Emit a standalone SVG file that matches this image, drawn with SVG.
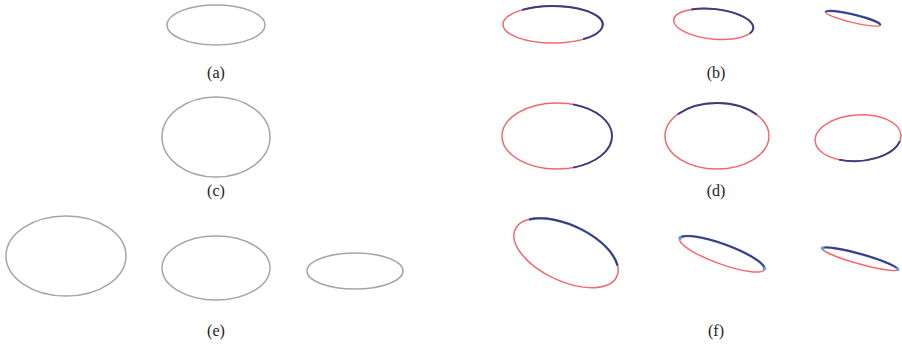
<svg xmlns="http://www.w3.org/2000/svg" width="902" height="348" viewBox="0 0 902 348">
<style>
.g{fill:none;stroke:#a6a6a6;stroke-width:1.5}
.r{fill:none;stroke:#f3686d;stroke-width:1.5}
.bu{fill:none;stroke:#5aa2da;stroke-width:2.6;stroke-linecap:round;stroke-opacity:0.75}
.b{fill:none;stroke:#3c3a80;stroke-width:1.9}
.d{fill:#5aa2da}
.lbl{font-family:"Liberation Serif",serif;font-size:16px;fill:#222;text-anchor:middle}
</style>
<rect width="902" height="348" fill="#fff"/>
<g id="a1"><ellipse class="g" cx="216" cy="25" rx="49" ry="20"/></g>
<g id="c1"><ellipse class="g" cx="216" cy="137" rx="54" ry="40"/></g>
<g id="e1"><ellipse class="g" cx="66" cy="256" rx="60" ry="40"/></g>
<g id="e2"><ellipse class="g" cx="216" cy="268" rx="54" ry="32"/></g>
<g id="e3"><ellipse class="g" cx="355" cy="271" rx="48" ry="18"/></g>

<g id="b1" transform="translate(553,24.5)">
<ellipse class="r" cx="0" cy="0" rx="50" ry="18.5"/>
<path class="b" d="M -30.8 -14.58 A 50 18.5 0 1 1 30.09 14.77"/>
</g>
<g id="b2" transform="translate(713.5,24) rotate(6)">
<ellipse class="r" cx="0" cy="0" rx="40" ry="15"/>
<path class="b" d="M -23.5 -12.14 A 40 15 0 0 1 37.08 5.62"/>
</g>
<g id="b3" transform="translate(853,18.5) rotate(13.5)">
<ellipse class="r" cx="0" cy="0" rx="28" ry="4"/>
<path class="bu" d="M -28 0 A 28 4 0 0 1 28 0" stroke-width="2"/>
<path class="b" d="M -28 0 A 28 4 0 0 1 28 0" stroke-width="1.5"/>
</g>

<g id="d1" transform="translate(557,136)">
<ellipse class="r" cx="0" cy="0" rx="55" ry="33"/>
<path class="b" d="M 16.08 -31.56 A 55 33 0 0 1 16.08 31.56"/>
</g>
<g id="d2" transform="translate(717,136)">
<ellipse class="r" cx="0" cy="0" rx="52" ry="33"/>
<path class="b" d="M -39.25 -21.65 A 52 33 0 0 1 39.83 -21.21"/>
</g>
<g id="d3" transform="translate(858,138) rotate(-4)">
<ellipse class="r" cx="0" cy="0" rx="43" ry="23"/>
<path class="b" d="M 41.53 5.95 A 43 23 0 0 1 -20.19 20.31"/>
</g>

<g id="f1" transform="translate(566,253) rotate(25)">
<ellipse class="r" cx="0" cy="0" rx="56" ry="28"/>
<path class="bu" d="M -47.49 -14.84 A 56 28 0 0 1 51.92 -10.49"/>
<path class="b" d="M -47.49 -14.84 A 56 28 0 0 1 51.92 -10.49"/>
</g>
<g id="f2" transform="translate(722,254) rotate(20)">
<ellipse class="r" cx="0" cy="0" rx="45" ry="10"/>
<path class="bu" d="M -44.83 -0.87 A 45 10 0 0 1 44.83 -0.87"/>
<path class="b" d="M -44.83 -0.87 A 45 10 0 0 1 44.83 -0.87"/>
<circle class="d" cx="-44.83" cy="-0.87" r="1.8"/>
<circle class="d" cx="44.83" cy="-0.87" r="1.8"/>
</g>
<g id="f3" transform="translate(860,259) rotate(15.6)">
<ellipse class="r" cx="0" cy="0" rx="39" ry="5"/>
<path class="bu" d="M -38.98 -0.17 A 39 5 0 0 1 38.98 -0.17"/>
<path class="b" d="M -38.98 -0.17 A 39 5 0 0 1 38.98 -0.17"/>
<circle class="d" cx="-38.98" cy="-0.17" r="1.8"/>
<circle class="d" cx="38.98" cy="-0.17" r="1.8"/>
</g>

<g id="labels">
<text class="lbl" x="216" y="78">(a)</text>
<text class="lbl" x="716" y="78">(b)</text>
<text class="lbl" x="216" y="196">(c)</text>
<text class="lbl" x="716" y="196">(d)</text>
<text class="lbl" x="216" y="336">(e)</text>
<text class="lbl" x="716" y="336">(f)</text>
</g>
<g id="connectors"/>
</svg>
